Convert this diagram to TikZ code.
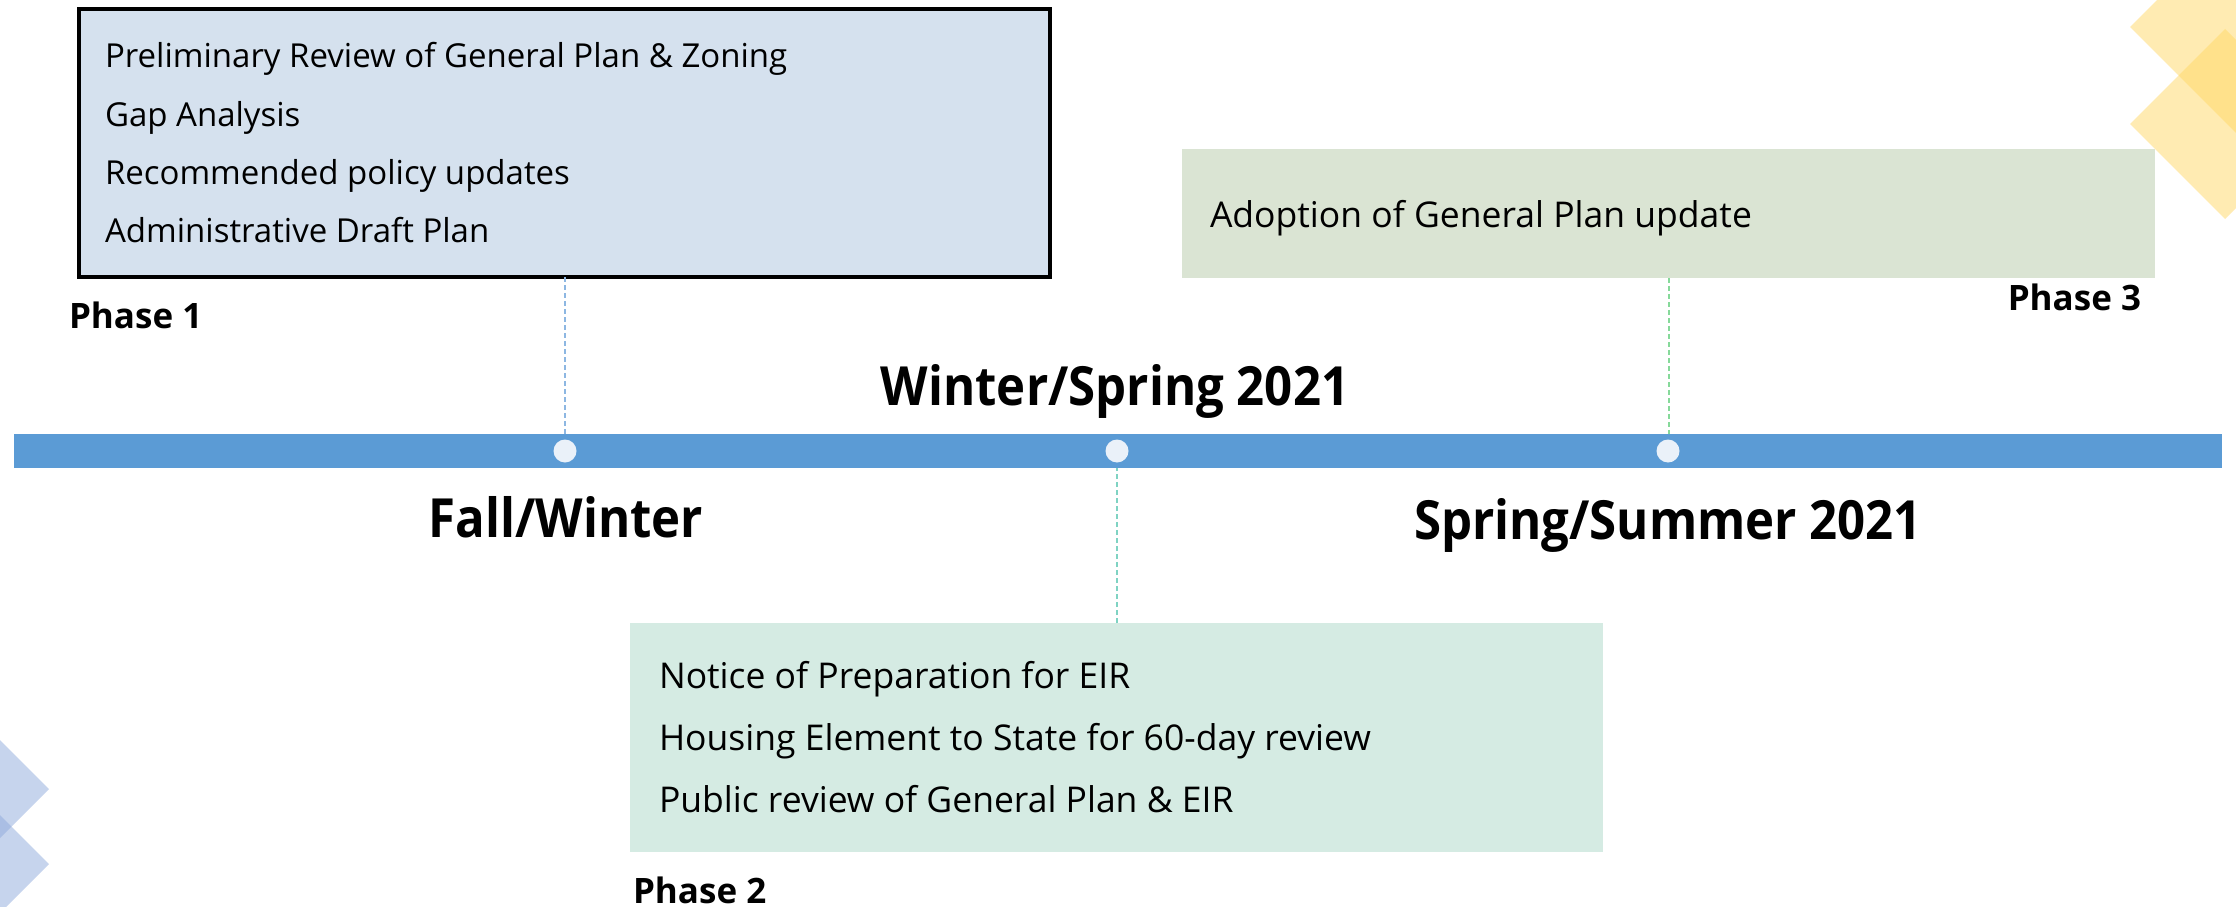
\documentclass[tikz,border=0pt]{standalone}
\usepackage{fontspec}
\setmainfont{Open Sans}
\newfontfamily\narrowfont[FakeStretch=0.91]{Open Sans}
\definecolor{barblue}{HTML}{5B9BD5}
\definecolor{dotfill}{HTML}{EAF1F9}
\definecolor{boxone}{HTML}{D5E1EE}
\definecolor{boxtwo}{HTML}{D5EBE3}
\definecolor{boxthree}{HTML}{DAE4D3}
\definecolor{lineone}{HTML}{8DB7E2}
\definecolor{linetwo}{HTML}{7FD3C3}
\definecolor{linethree}{HTML}{86D99A}
\definecolor{decoyellow}{HTML}{FFD966}
\definecolor{decoblue}{HTML}{8FAADC}
\begin{document}
\begin{tikzpicture}[x=1pt,y=-1pt,
  every node/.style={inner sep=0pt,outer sep=0pt},
  panel/.style={rectangle,minimum width=#1},
  itemtext/.style={anchor=base west,font=\fontsize{33}{40}\selectfont},
  itemtextb/.style={anchor=base west,font=\fontsize{35.5}{42}\selectfont},
  phaselabel/.style={font=\fontsize{35}{42}\selectfont\bfseries},
  periodlabel/.style={anchor=base,font=\narrowfont\fontsize{54}{64}\selectfont\bfseries},
  dotnode/.style={circle,fill=dotfill,minimum size=23pt},
  connector/.style={line width=2pt,dash pattern=on 5pt off 3pt}]
\useasboundingbox (0,0) rectangle (2236,907);
\fill[white] (0,0) rectangle (2236,907);
% decorations
\begin{scope}
\clip (0,0) rectangle (2236,907);
\fill[decoyellow,fill opacity=0.5] (2130,27) -- (2245,-88) -- (2360,27) -- (2245,142) -- cycle;
\fill[decoyellow,fill opacity=0.5] (2130,124) -- (2225,29) -- (2320,124) -- (2225,219) -- cycle;
\fill[decoblue,fill opacity=0.5] (49,789) -- (-46,694) -- (-141,789) -- (-46,884) -- cycle;
\fill[decoblue,fill opacity=0.5] (49,864) -- (-46,769) -- (-141,864) -- (-46,959) -- cycle;
\end{scope}
% boxes
\node[panel=971pt,minimum height=268pt,fill=boxone,draw=black,line width=4pt] (box1) at (564.5,143) {};
\node[panel=973pt,minimum height=229pt,fill=boxtwo] (box2) at (1116.5,737.5) {};
\node[panel=973pt,minimum height=129pt,fill=boxthree] (box3) at (1668.5,213.5) {};
% timeline
\node[panel=2208pt,minimum height=34pt,fill=barblue] (bar) at (1118,451) {};
\node[dotnode] (d1) at (565,451) {};
\node[dotnode] (d2) at (1117,451) {};
\node[dotnode] (d3) at (1668,451) {};
% connectors
\draw[connector,lineone] (box1.south) -- (box1.south |- bar.north);
\draw[connector,linetwo] (box2.north) -- (box2.north |- bar.south);
\draw[connector,linethree] (box3.south) -- (box3.south |- bar.north);
% box texts
\node[itemtext] (t11) at (105,68) {Preliminary Review of General Plan \& Zoning};
\node[itemtext] (t12) at (105,126) {Gap Analysis};
\node[itemtext] (t13) at (105,184) {Recommended policy updates};
\node[itemtext] (t14) at (105,242) {Administrative Draft Plan};
\node[itemtextb] (t21) at (659,688) {Notice of Preparation for EIR};
\node[itemtextb] (t22) at (659,750) {Housing Element to State for 60-day review};
\node[itemtextb] (t23) at (659,812) {Public review of General Plan \& EIR};
\node[itemtextb] (t31) at (1210,227) {Adoption of General Plan update};
% phase labels
\node[phaselabel,anchor=base west] (p1) at (69,328) {Phase 1};
\node[phaselabel,anchor=base west] (p2) at (633,903) {Phase 2};
\node[phaselabel,anchor=base east] (p3) at (2141,310) {Phase 3};
% period labels
\node[periodlabel] (w1) at (566,537) {Fall/Winter};
\node[periodlabel] (w2) at (1115,405) {Winter/Spring 2021};
\node[periodlabel] (w3) at (1668,539) {Spring/Summer 2021};
\end{tikzpicture}
\end{document}
